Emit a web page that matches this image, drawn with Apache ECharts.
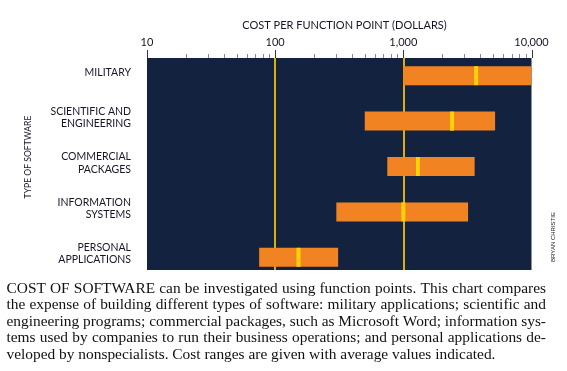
<!DOCTYPE html>
<html><head><meta charset="utf-8">
<script src="https://cdn.jsdelivr.net/npm/echarts@6/dist/echarts.min.js"></script>
<style>html,body{margin:0;padding:0;background:#fff}#c{width:567px;height:371px}</style>
</head><body><div id="c"></div>
<script>
// ---- data ----
const categories = ['MILITARY', 'SCIENTIFIC AND\nENGINEERING', 'COMMERCIAL\nPACKAGES', 'INFORMATION\nSYSTEMS', 'PERSONAL\nAPPLICATIONS'];
const lowCost  = [1000, 500, 750, 300, 75];
const highCost = [10000, 5200, 3600, 3200, 310];
const avgCost  = [3700, 2400, 1300, 1000, 152];
const majorTicks = [10, 100, 1000, 10000];
const tickLabels = ['10', '100', '1,000', '10,000'];
const minorTicks = [20, 30, 40, 50, 60, 70, 80, 90, 200, 300, 400, 500, 600, 700, 800, 900, 2000, 3000, 4000, 5000, 6000, 7000, 8000, 9000];
const refLines = [100, 1000];
const axisTitle = 'COST PER FUNCTION POINT (DOLLARS)';
const yTitle = 'TYPE OF SOFTWARE';
const credit = 'BRYAN CHRISTIE';
const captionLines = [
  'COST OF SOFTWARE can be investigated using function points. This chart compares',
  'the expense of building different types of software: military applications; scientific and',
  'engineering programs; commercial packages, such as Microsoft Word; information sys-',
  'tems used by companies to run their business operations; and personal applications de-',
  'veloped by nonspecialists. Cost ranges are given with average values indicated.'
];

// ---- styles ----
const NAVY = '#13223f', ORANGE = '#f28322', YELLOW = '#ffd10a', GOLD = '#dcae0c', INK = '#16162a';
const SANS = 'Lato, "Liberation Sans", sans-serif';
const SERIF = '"Liberation Serif", serif';

const GL = 147, GR = 567 - 531.5;

const chart = echarts.init(document.getElementById('c'), null, { renderer: 'canvas' });

// caption justification
const capSize = 15.4;
const ctx = document.createElement('canvas').getContext('2d');
ctx.font = capSize + 'px "Liberation Serif"';
const capLeft = 6.5, capRight = 546, capW = capRight - capLeft;
const capY0 = 288.5, capLH = 16.65;
const capEls = [];
captionLines.forEach((line, i) => {
  const words = line.split(' ');
  const widths = words.map(w => ctx.measureText(w).width);
  const sum = widths.reduce((a, b) => a + b, 0);
  const last = i === captionLines.length - 1;
  const gap = last ? ctx.measureText(' ').width : (capW - sum) / (words.length - 1);
  let x = capLeft;
  words.forEach((w, j) => {
    capEls.push({ type: 'text', x: x, y: capY0 + i * capLH, silent: true,
      style: { text: w, fill: '#111', font: capSize + 'px ' + SERIF, align: 'left', verticalAlign: 'middle' } });
    x += widths[j] + gap;
  });
});

const tickData = majorTicks.map(v => [v, 8]).concat(minorTicks.map(v => [v, 4]));

const option = {
  animation: false,
  backgroundColor: '#fff',
  grid: [
    { left: GL, right: GR, top: 58, height: 212, show: true, backgroundColor: NAVY, borderWidth: 0 },
    { left: GL, right: GR, top: 53, height: 227, show: false },
    { left: GL, right: GR, top: 49.5, height: 227, show: false }
  ],
  xAxis: [
    { type: 'log', logBase: 10, min: 10, max: 10000, gridIndex: 0, position: 'top',
      axisLine: { show: false }, axisTick: { show: false },
      axisLabel: { show: true, margin: 10, fontSize: 11, fontFamily: SANS, color: INK,
        formatter: v => tickLabels[Math.round(Math.log10(v)) - 1] },
      splitLine: { show: false }, minorTick: { show: false } },
    { type: 'log', logBase: 10, min: 10, max: 10000, gridIndex: 1, show: false },
    { type: 'log', logBase: 10, min: 10, max: 10000, gridIndex: 2, show: false }
  ],
  yAxis: [
    { type: 'value', gridIndex: 0, show: false, min: 0, max: 1 },
    { type: 'category', gridIndex: 1, inverse: true, data: categories, show: false },
    { type: 'category', gridIndex: 2, inverse: true, data: categories,
      axisLine: { show: false }, axisTick: { show: false }, splitLine: { show: false },
      axisLabel: { margin: 16, fontSize: 10.5, fontFamily: SANS, color: INK, lineHeight: 12.5, align: 'right' } }
  ],
  series: [
    { type: 'line', xAxisIndex: 0, yAxisIndex: 0, data: [], silent: true, z: 1,
      markLine: { silent: true, symbol: 'none', label: { show: false },
        lineStyle: { color: GOLD, width: 2, type: 'solid' },
        data: refLines.map(v => ({ xAxis: v })) } },
    { type: 'custom', xAxisIndex: 0, yAxisIndex: 0, z: 3, clip: false, silent: true,
      encode: { x: 0 },
      data: tickData,
      renderItem: (params, api) => {
        const p = api.coord([api.value(0), 1]);
        const len = api.value(1);
        const x = Math.round(p[0]) + 0.5;
        return { type: 'line', shape: { x1: x, y1: p[1], x2: x, y2: p[1] - len },
          style: { stroke: len > 5 ? '#333' : '#888', lineWidth: 1 } };
      } },
    { type: 'custom', xAxisIndex: 1, yAxisIndex: 1, z: 5,
      encode: { x: [1, 2, 3], y: 0 },
      data: categories.map((c, i) => [i, lowCost[i], highCost[i], avgCost[i]]),
      renderItem: (params, api) => {
        const yi = api.value(0);
        const lo = api.coord([api.value(1), yi]);
        const hi = api.coord([api.value(2), yi]);
        const av = api.coord([api.value(3), yi]);
        const h = 19;
        return { type: 'group', children: [
          { type: 'rect', shape: { x: lo[0], y: lo[1] - h / 2, width: hi[0] - lo[0], height: h }, style: { fill: ORANGE } },
          { type: 'rect', shape: { x: av[0] - 2, y: lo[1] - h / 2, width: 4, height: h }, style: { fill: YELLOW } }
        ] };
      } }
  ],
  graphic: [
    { type: 'text', x: 344.5, y: 25, silent: true,
      style: { text: axisTitle, fill: INK, font: '11px ' + SANS, align: 'center', verticalAlign: 'middle' } },
    { type: 'text', x: 28, y: 157, rotation: Math.PI / 2, silent: true,
      style: { text: yTitle, fill: INK, font: '8.6px ' + SANS, align: 'center', verticalAlign: 'middle' } },
    { type: 'text', x: 553, y: 237, rotation: Math.PI / 2, silent: true,
      style: { text: credit, fill: '#222', font: '6px "Liberation Sans Narrow", "Liberation Sans", sans-serif', align: 'center', verticalAlign: 'middle' } }
  ].concat(capEls)
};
chart.setOption(option);
</script></body></html>
